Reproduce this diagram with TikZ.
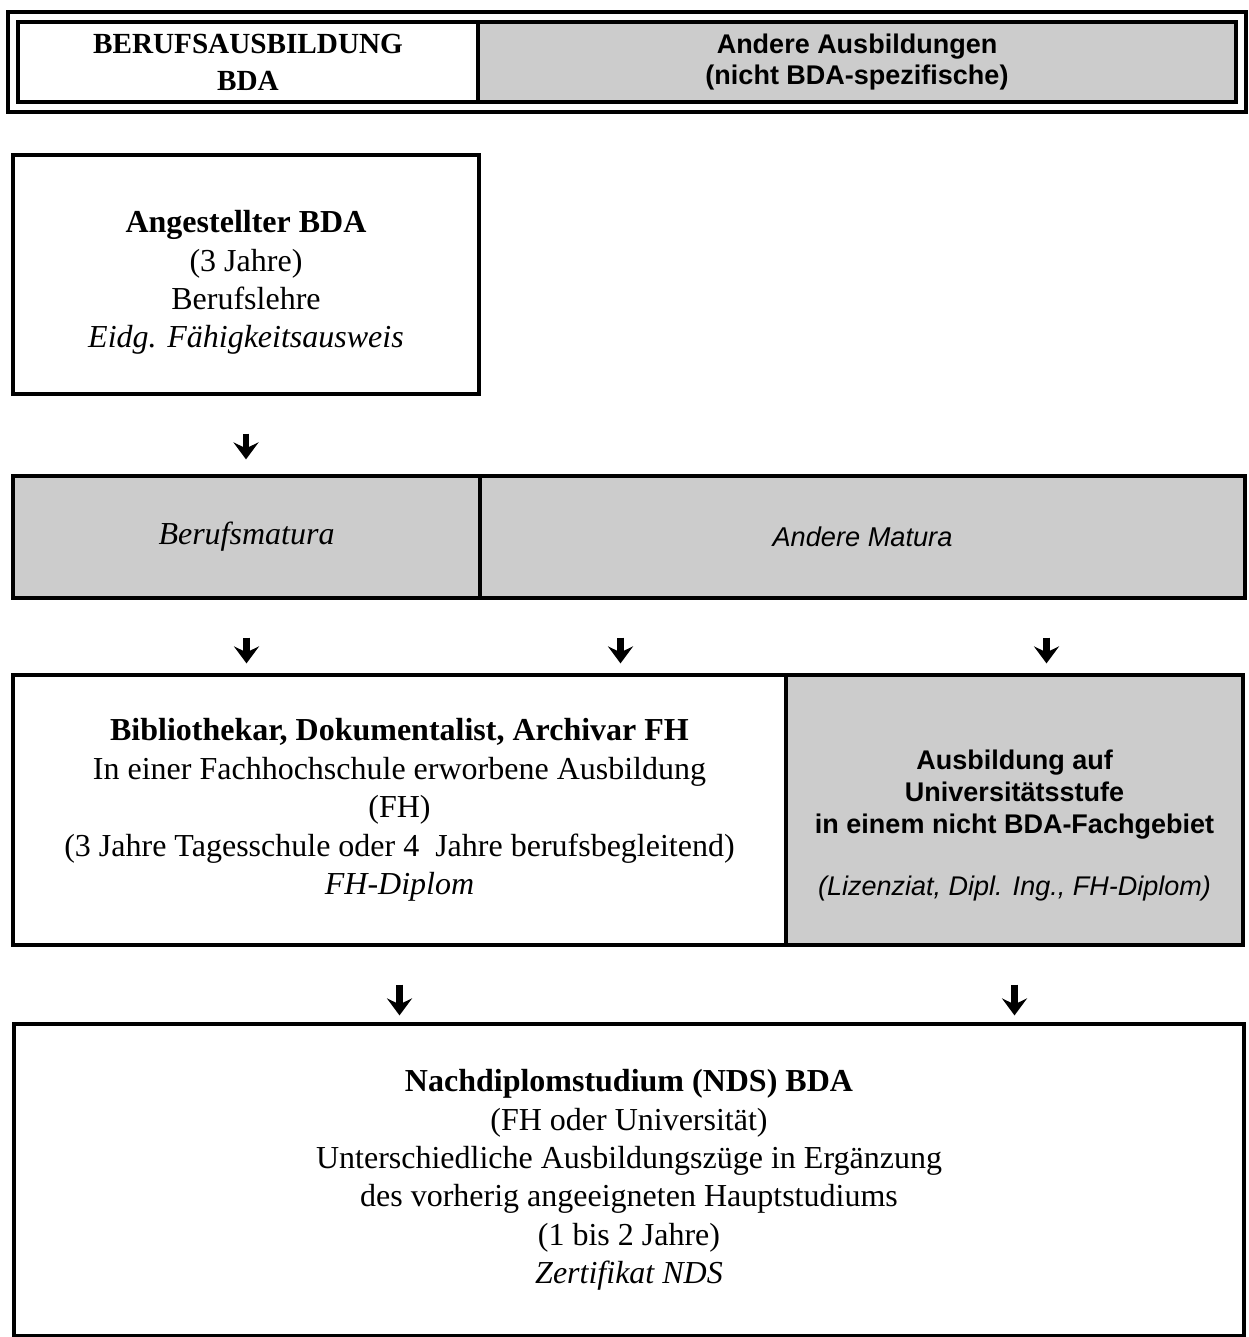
\documentclass[tikz,border=0pt]{standalone}
\usepackage{fontspec}
\setmainfont{Liberation Serif}
\setsansfont{Liberation Sans}
\usetikzlibrary{arrows.meta, positioning, fit}
\definecolor{halftone}{gray}{0.8}

\begin{document}
\begin{tikzpicture}[
    x=0.5pt, y=-0.5pt,
    box/.style={rectangle, draw, line width=1.6pt, align=center, inner sep=0pt, font=\fontsize{16}{19.2}\selectfont},
    shaded/.style={box, fill=halftone, font=\sffamily\bfseries\fontsize{13.5}{16}\selectfont},
    downarrow/.style={-{Stealth[length=8.5pt, width=12.5pt, inset=3pt]}, line width=3.2pt, shorten <=19pt},
]
    \useasboundingbox (0,0) rectangle (1248,1337);

    % Header
    \node[box, minimum width=230pt, minimum height=40pt, font=\bfseries\fontsize{14.6}{18.5}\selectfont] (hdrL) at (248,62) {BERUFSAUSBILDUNG\\BDA};
    \node[shaded, minimum width=379pt, minimum height=40pt, font=\sffamily\bfseries\fontsize{13.5}{15.5}\selectfont] (hdrR) at (857,62) {Andere Ausbildungen\\(nicht BDA-spezifische)};
    \node[draw, line width=2pt, inner sep=4pt, fit=(hdrL)(hdrR)] (frame) {};

    % Boxes
    \node[box, minimum width=233pt, minimum height=119.5pt] (angest) at (246,274.5)
        {\mbox{}\\[0pt]\textbf{Angestellter BDA}\\(3 Jahre)\\Berufslehre\\\textit{Eidg. Fähigkeitsausweis}};
    \node[box, fill=halftone, minimum width=233.5pt, minimum height=61pt, font=\itshape\fontsize{16}{19}\selectfont] (berufsm) at (246.5,537) {Berufsmatura};
    \node[shaded, minimum width=382.5pt, minimum height=61pt, font=\sffamily\itshape\fontsize{13.6}{16}\selectfont] (andmat) at (862.5,537) {Andere Matura};
    \node[box, minimum width=386.5pt, minimum height=135pt] (fh) at (399.5,810)
        {\textbf{Bibliothekar, Dokumentalist, Archivar FH}\\In einer Fachhochschule erworbene Ausbildung\\(FH)\\(3 Jahre Tagesschule oder 4~ Jahre berufsbegleitend)\\\textit{FH-Diplom}};
    \node[shaded, minimum width=228.5pt, minimum height=135pt] (uni) at (1014.5,810)
        {\mbox{}\\[9pt]Ausbildung auf\\Universitätsstufe\\in einem nicht BDA-Fachgebiet\\[15pt]{\mdseries\itshape (Lizenziat, Dipl. Ing., FH-Diplom)}};
    \node[box, minimum width=615pt, minimum height=156pt] (nds) at (629,1180)
        {\textbf{Nachdiplomstudium (NDS) BDA}\\(FH oder Universität)\\Unterschiedliche Ausbildungszüge in Ergänzung\\des vorherig angeeigneten Hauptstudiums\\(1 bis 2 Jahre)\\\textit{Zertifikat NDS}};

    % Arrows
    \draw[downarrow, shorten >=7.5pt] (angest.south) -- (angest.south |- berufsm.north);
    \draw[downarrow, shorten >=5pt] (berufsm.south) -- (berufsm.south |- fh.north);
    \draw[downarrow, shorten >=5pt] ([xshift=-121pt]andmat.south) -- ([xshift=-121pt]andmat.south |- fh.north);
    \draw[downarrow, shorten >=5pt] ([xshift=92pt]andmat.south) -- ([xshift=92pt]andmat.south |- uni.north);
    \draw[downarrow, shorten >=3.5pt] (fh.south) -- (fh.south |- nds.north);
    \draw[downarrow, shorten >=3.5pt] (uni.south) -- (uni.south |- nds.north);

\end{tikzpicture}
\end{document}
